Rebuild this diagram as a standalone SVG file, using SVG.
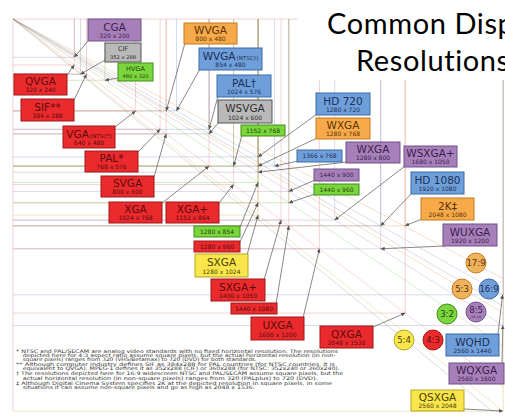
<svg xmlns="http://www.w3.org/2000/svg" width="505" height="417" viewBox="0 0 505 417">
<defs>
<marker id="ah" markerUnits="userSpaceOnUse" markerWidth="4" markerHeight="4" viewBox="0 0 10 10" refX="10" refY="5" orient="auto"><path d="M0,0 L10,5 L0,10 z" fill="#555"/></marker>
<style>
.gl{fill:none;stroke-width:0.7;opacity:0.4}
.lr{stroke:#e06060}.lp{stroke:#9070b0}.lb{stroke:#6080c0}.lo{stroke:#d08030}.lg{stroke:#60b030}.lk{stroke:#707070}.ly{stroke:#c0a020}
.dg{fill:none;stroke-width:0.7;opacity:0.35}
.c{stroke:#555;stroke-width:0.7;fill:none;marker-end:url(#ah)}
rect{stroke-width:1}
.r rect{fill:#ea2a2c;stroke:#a01818}.r text{fill:#5c0c0c}
.p rect{fill:#a880b9;stroke:#70508a}.p text{fill:#3a2050}
.k rect{fill:#b9b9b9;stroke:#555}.k text{fill:#303030}
.g rect{fill:#7ad63c;stroke:#3f8d1a}.g text{fill:#24440c}
.o rect{fill:#f7aa4a;stroke:#c47a1e}.o text{fill:#5a3206}
.b rect{fill:#6f9fda;stroke:#3d6aa5}.b text{fill:#1c2f55}
.y rect{fill:#f9e64c;stroke:#b6a520}.y text{fill:#4a4000}
.r circle{fill:#ea2a2c;stroke:#a01818}.p circle{fill:#a880b9;stroke:#70508a}.g circle{fill:#7ad63c;stroke:#3f8d1a}
.o circle{fill:#efb35e;stroke:#c47a1e}.b circle{fill:#6f9fda;stroke:#3d6aa5}.y circle{fill:#f9e64c;stroke:#b6a520}
text{font-family:"DejaVu Sans",sans-serif;text-anchor:middle}
.n{font-size:10.5px}.d{font-size:6px}.s{font-size:6px}.sm{font-size:6.5px}.ds{font-size:5.2px}.sub{font-size:5.5px}
.ci{font-size:8.5px}
.fn{font-size:4.9px;fill:#333;text-anchor:start}
.t{font-family:Lato,"Liberation Sans",sans-serif;font-size:29px;letter-spacing:0.6px;fill:#000;text-anchor:start}
</style>
</defs>
<rect width="505" height="417" fill="#fff"/>
<g id="grid">
<path class="gl lr" d="M13 19H503M13 19V411M13 65H74.3V19M13 74.2H86.5V19M13 110.9H135.6V19M13 129.3H160.1V19M13 133.9H166.2V19M13 166.1H209.1V19M13 184.5H233.6V19M13 202.8H258.1V19M13 220.1H281.1V19M13 225.8H288.8V19M13 248.8H319.4V19M13 313.1H405.2V19"/>
<path class="gl lp" d="M13 57.3H74.3V19M13 172.2H258.1V19M13 191.4H288.8V19M13 220.1H334.7V19M13 248.8H380.7V19M13 325.4H503.2V19"/>
<path class="gl lb" d="M13 110.9H176.5V19M13 129.3H209.1V19M13 156.9H258.1V19M13 166.1H274.6V19M13 225.8H380.7V19M13 294.8H503.2V19"/>
<path class="gl lo" d="M13 110.9H166.2V19M13 166.1H258.1V19M13 225.8H405.2V19"/>
<path class="gl lg" d="M13 80.3H104.9V19M13 182.5H258.1V19M13 166.1H233.6V19M13 202.8H288.8V19"/>
<path class="gl lk" d="M13 74.2H80.4V19M13 133.9H209.1V19"/>
<path class="gl ly" d="M13 215.1H258.1V19M13 411.2H503.2V19"/>
<path class="dg lo" d="M13 19L503.2 278.5M13 19L503.2 313.1"/>
<path class="dg lb" d="M13 19L503.2 294.7"/>
<path class="dg lp" d="M13 19L503.2 325.4"/>
<path class="dg lg" d="M13 19L503.2 345.8"/>
<path class="dg lr" d="M13 19L503.2 386.7"/>
<path class="dg ly" d="M13 19L503.2 411.2"/>
<path class="dg lk" d="M13 19L492.4 411.2M13 19L503.2 306.2"/>
</g>
<rect x="298" y="0" width="207" height="80" fill="#fff"/>
<g id="title">
<text class="t" x="327" y="34">Common Disp</text>
<text class="t" x="356" y="71">Resolutions</text>
</g>
<g id="connectors">
<path class="c" d="M88 41L74.3 57.3"/>
<path class="c" d="M105 60L80.4 74.2"/>
<path class="c" d="M118 78L104.9 80.3"/>
<path class="c" d="M67 75L74.3 65"/>
<path class="c" d="M74 100L86.5 74.2"/>
<path class="c" d="M115 127L135.6 110.9"/>
<path class="c" d="M138 152L160.1 129.3"/>
<path class="c" d="M154 177L166.2 133.9"/>
<path class="c" d="M162 203L209.1 166.1"/>
<path class="c" d="M219 203L233.6 184.5"/>
<path class="c" d="M240 227L258.1 182.5"/>
<path class="c" d="M240 242L258.1 202.8"/>
<path class="c" d="M247 255L258.1 215.1"/>
<path class="c" d="M264 280L281.1 220.1"/>
<path class="c" d="M276 304L288.8 225.8"/>
<path class="c" d="M303 318L319.4 248.8"/>
<path class="c" d="M373 327L405.2 313.1"/>
<path class="c" d="M185 43L166.2 110.9"/>
<path class="c" d="M200 69L176.5 110.9"/>
<path class="c" d="M218 96L209.1 129.3"/>
<path class="c" d="M219 122L209.1 133.9"/>
<path class="c" d="M242 135L233.6 166.1"/>
<path class="c" d="M317 114L258.1 156.9"/>
<path class="c" d="M317 138L258.1 166.1"/>
<path class="c" d="M298 161L274.6 166.1"/>
<path class="c" d="M347 162L258.1 172.2"/>
<path class="c" d="M315 180L288.8 191.4"/>
<path class="c" d="M315 194L288.8 202.8"/>
<path class="c" d="M405 166L334.7 220.1"/>
<path class="c" d="M412 193L380.7 225.8"/>
<path class="c" d="M422 219L405.2 225.8"/>
<path class="c" d="M444 246L380.7 248.8"/>
<path class="c" d="M498 334L502.5 294.8"/>
<path class="c" d="M502 363L502.8 325.4"/>
<path class="c" d="M464 409L502.8 411"/>
</g>
<g id="cga" class="p"><rect x="88" y="19" width="53" height="22"/><text class="n" x="114.5" y="30.5">CGA</text><text class="d" x="114.5" y="38">320 x 200</text></g>
<g id="cif" class="k"><rect x="105" y="43" width="36" height="19"/><text class="sm" x="123" y="51">CIF</text><text class="ds" x="123" y="58.5">352 x 288</text></g>
<g id="hvga" class="g"><rect x="118" y="63" width="35" height="18"/><text class="sm" x="135.5" y="71">HVGA</text><text class="ds" x="135.5" y="78">480 x 320</text></g>
<g id="qvga" class="r"><rect x="14" y="74" width="53" height="21"/><text class="n" x="40.5" y="85">QVGA</text><text class="d" x="40.5" y="92">320 x 240</text></g>
<g id="sif" class="r"><rect x="21" y="99" width="53" height="22"/><text class="n" x="47.5" y="110.5">SIF**</text><text class="d" x="47.5" y="118">384 x 288</text></g>
<g id="vga" class="r"><rect x="63" y="126" width="52" height="22"/><text class="n" x="89" y="137.5">VGA<tspan class="sub" dx="1">(NTSC*)</tspan></text><text class="d" x="89" y="145">640 x 480</text></g>
<g id="pal" class="r"><rect x="85" y="151" width="53" height="21"/><text class="n" x="111.5" y="162">PAL*</text><text class="d" x="111.5" y="169">768 x 576</text></g>
<g id="svga" class="r"><rect x="101" y="176" width="53" height="21"/><text class="n" x="127.5" y="187">SVGA</text><text class="d" x="127.5" y="194">800 x 600</text></g>
<g id="xga" class="r"><rect x="109" y="202" width="53" height="21"/><text class="n" x="135.5" y="213">XGA</text><text class="d" x="135.5" y="220">1024 x 768</text></g>
<g id="xgaplus" class="r"><rect x="166" y="202" width="53" height="21"/><text class="n" x="192.5" y="213">XGA+</text><text class="d" x="192.5" y="220">1152 x 864</text></g>
<g id="r1280x854" class="g"><rect x="194" y="226" width="46" height="11"/><text class="s" x="217" y="233.7">1280 x 854</text></g>
<g id="r1280x960" class="r"><rect x="194" y="241" width="46" height="11"/><text class="s" x="217" y="248.7">1280 x 960</text></g>
<g id="sxga" class="y"><rect x="195" y="254" width="53" height="23"/><text class="n" x="221.5" y="266">SXGA</text><text class="d" x="221.5" y="274">1280 x 1024</text></g>
<g id="sxgaplus" class="r"><rect x="211" y="279" width="54" height="22"/><text class="n" x="238" y="290.5">SXGA+</text><text class="d" x="238" y="298">1400 x 1050</text></g>
<g id="r1440x1080" class="r"><rect x="231" y="303" width="46" height="11"/><text class="s" x="254" y="310.7">1440 x 1080</text></g>
<g id="uxga" class="r"><rect x="251" y="317" width="53" height="23"/><text class="n" x="277.5" y="329">UXGA</text><text class="d" x="277.5" y="337">1600 x 1200</text></g>
<g id="qxga" class="r"><rect x="320" y="326" width="53" height="22"/><text class="n" x="346.5" y="337.5">QXGA</text><text class="d" x="346.5" y="345">2048 x 1536</text></g>
<g id="wvga" class="o"><rect x="184" y="23" width="53" height="21"/><text class="n" x="210.5" y="34">WVGA</text><text class="d" x="210.5" y="41">800 x 480</text></g>
<g id="wvga-ntsc" class="b"><rect x="199" y="48" width="63" height="22"/><text class="n" x="230.5" y="59.5">WVGA<tspan class="sub" dx="1">(NTSC†)</tspan></text><text class="d" x="230.5" y="67">854 x 480</text></g>
<g id="pal-wide" class="b"><rect x="217" y="75" width="54" height="22"/><text class="n" x="244" y="86.5">PAL†</text><text class="d" x="244" y="94">1024 x 576</text></g>
<g id="wsvga" class="k"><rect x="218" y="100" width="54" height="23"/><text class="n" x="245" y="112">WSVGA</text><text class="d" x="245" y="120">1024 x 600</text></g>
<g id="r1152x768" class="g"><rect x="241" y="125" width="44" height="11"/><text class="s" x="263" y="132.7">1152 x 768</text></g>
<g id="hd720" class="b"><rect x="316" y="93" width="54" height="22"/><text class="n" x="343" y="104.5">HD 720</text><text class="d" x="343" y="112">1280 x 720</text></g>
<g id="wxga768" class="o"><rect x="316" y="118" width="54" height="21"/><text class="n" x="343" y="129">WXGA</text><text class="d" x="343" y="136">1280 x 768</text></g>
<g id="r1366x768" class="b"><rect x="297" y="150" width="45" height="12"/><text class="s" x="319.5" y="158.2">1366 x 768</text></g>
<g id="wxga800" class="p"><rect x="346" y="142" width="54" height="21"/><text class="n" x="373" y="153">WXGA</text><text class="d" x="373" y="160">1280 x 800</text></g>
<g id="r1440x900" class="p"><rect x="314" y="169" width="45" height="12"/><text class="s" x="336.5" y="177.2">1440 x 900</text></g>
<g id="r1440x960" class="g"><rect x="314" y="184" width="45" height="11"/><text class="s" x="336.5" y="191.7">1440 x 960</text></g>
<g id="wsxgaplus" class="p"><rect x="404" y="146" width="53" height="21"/><text class="n" x="430.5" y="157">WSXGA+</text><text class="d" x="430.5" y="164">1680 x 1050</text></g>
<g id="hd1080" class="b"><rect x="411" y="172" width="53" height="22"/><text class="n" x="437.5" y="183.5">HD 1080</text><text class="d" x="437.5" y="191">1920 x 1080</text></g>
<g id="k2" class="o"><rect x="421" y="198" width="53" height="22"/><text class="n" x="447.5" y="209.5">2K‡</text><text class="d" x="447.5" y="217">2048 x 1080</text></g>
<g id="wuxga" class="p"><rect x="443" y="224" width="54" height="22"/><text class="n" x="470" y="235.5">WUXGA</text><text class="d" x="470" y="243">1920 x 1200</text></g>
<g id="wqhd" class="b"><rect x="446" y="334" width="53" height="22"/><text class="n" x="472.5" y="345.5">WQHD</text><text class="d" x="472.5" y="353">2560 x 1440</text></g>
<g id="wqxga" class="p"><rect x="449" y="363" width="55" height="21"/><text class="n" x="476.5" y="374">WQXGA</text><text class="d" x="476.5" y="381">2560 x 1600</text></g>
<g id="qsxga" class="y"><rect x="411" y="390" width="53" height="21"/><text class="n" x="437.5" y="401">QSXGA</text><text class="d" x="437.5" y="408">2560 x 2048</text></g>
<g id="ar17-9" class="o"><circle cx="476" cy="263" r="10"/><text class="ci" x="476" y="266">17:9</text></g>
<g id="ar5-3" class="o"><circle cx="462" cy="289" r="10"/><text class="ci" x="462" y="292">5:3</text></g>
<g id="ar16-9" class="b"><circle cx="489" cy="289" r="10"/><text class="ci" x="489" y="292">16:9</text></g>
<g id="ar3-2" class="g"><circle cx="447" cy="314" r="10"/><text class="ci" x="447" y="317">3:2</text></g>
<g id="ar8-5" class="p"><circle cx="476" cy="312" r="10"/><text class="ci" x="476" y="313">8:5</text><text x="476" y="317.5" style="font-size:3px">(16:10)</text></g>
<g id="ar5-4" class="y"><circle cx="404" cy="340" r="10"/><text class="ci" x="404" y="343">5:4</text></g>
<g id="ar4-3" class="r"><circle cx="433" cy="340" r="10"/><text class="ci" x="433" y="343">4:3</text></g>
<g id="footnotes">
<text class="fn" x="16" y="352.5" textLength="322" lengthAdjust="spacingAndGlyphs">* NTSC and PAL/SECAM are analog video standards with no fixed horizontal resolution. The resolutions</text>
<text class="fn" x="22.7" y="357" textLength="313" lengthAdjust="spacingAndGlyphs">depicted here for 4:3 aspect ratio assume square pixels, but the actual horizontal resolution (in non-</text>
<text class="fn" x="22.7" y="361.3" textLength="234" lengthAdjust="spacingAndGlyphs">square pixels) ranges from 320 (VHS/Betamax) to 720 (DVD) for both standards.</text>
<text class="fn" x="16" y="366" textLength="319" lengthAdjust="spacingAndGlyphs">** Although computer industry defines SIF as 384x288 for PAL countries (for NTSC countries, it is</text>
<text class="fn" x="22.7" y="370.3" textLength="317" lengthAdjust="spacingAndGlyphs">equivalent to QVGA), MPEG-1 defines it as 352x288 (CIF) or 360x288 (for NTSC: 352x240 or 360x240).</text>
<text class="fn" x="16" y="375.2" textLength="327" lengthAdjust="spacingAndGlyphs">† The resolutions depicted here for 16:9 widescreen NTSC and PAL/SECAM assume square pixels, but the</text>
<text class="fn" x="22.7" y="379.5" textLength="295" lengthAdjust="spacingAndGlyphs">actual horizontal resolution (in non-square pixels) ranges from 320 (PALplus) to 720 (DVD).</text>
<text class="fn" x="16" y="384.5" textLength="316" lengthAdjust="spacingAndGlyphs">‡ Although Digital Cinema System specifies 2K at the depicted resolution in square pixels, in some</text>
<text class="fn" x="22.7" y="388.8" textLength="232" lengthAdjust="spacingAndGlyphs">situations it can assume non-square pixels and go as high as 2048 x 1536.</text>
</g>
</svg>
